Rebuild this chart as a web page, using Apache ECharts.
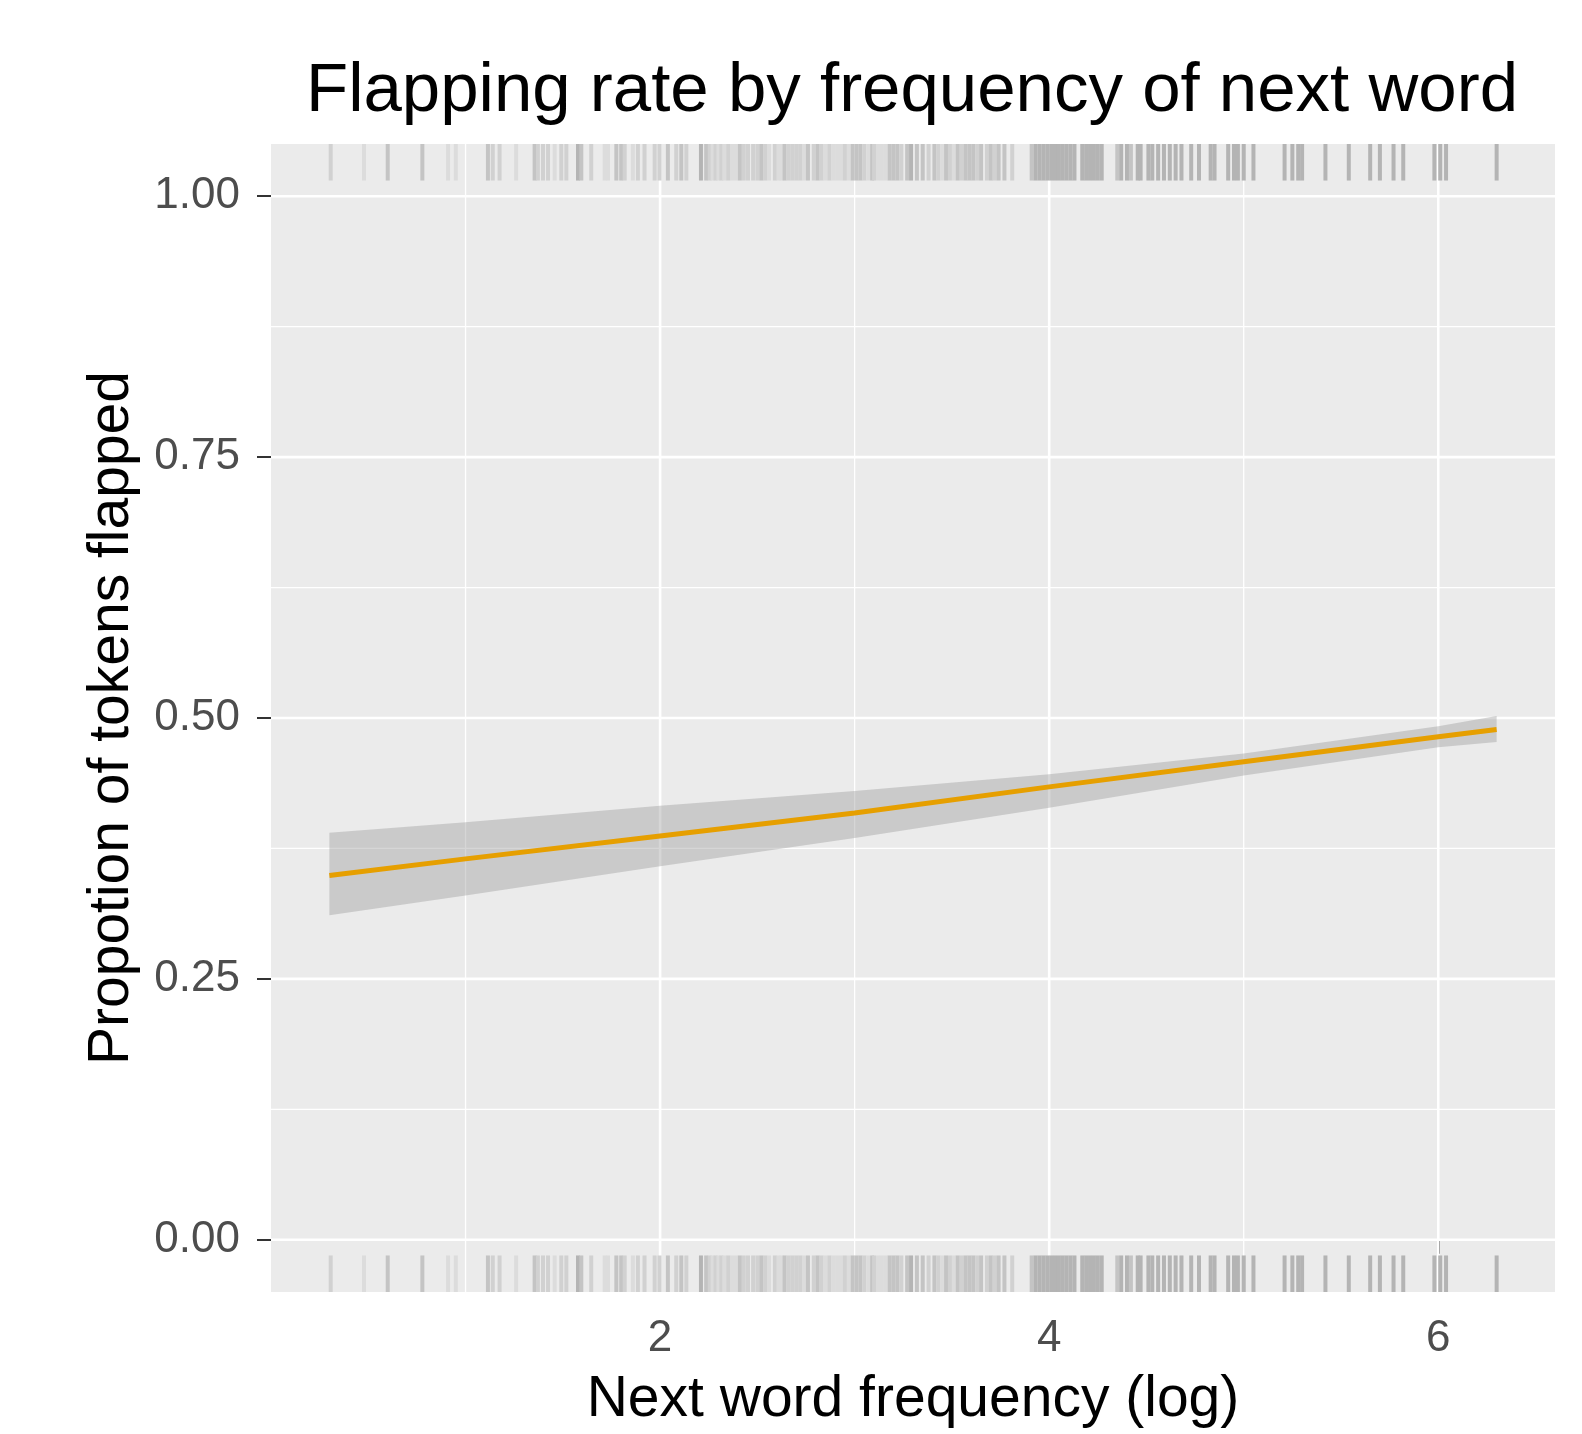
<!DOCTYPE html>
<html>
<head>
<meta charset="utf-8">
<script src="https://cdn.jsdelivr.net/npm/echarts@6/dist/echarts.min.js"></script>
<style>html,body{margin:0;padding:0;background:#fff;}#chart{width:1582px;height:1434px;}</style>
</head>
<body>
<div id="chart"></div>
<script>
// ---- data ----
const fitX    = [0.30, 1.0, 2.0, 3.0, 4.0, 5.0, 6.0, 6.30];
const fitY    = [0.349, 0.365, 0.387, 0.409, 0.434, 0.458, 0.482, 0.489];
const ciUpper = [0.390, 0.400, 0.416, 0.430, 0.446, 0.466, 0.492, 0.502];
const ciLower = [0.311, 0.330, 0.358, 0.385, 0.414, 0.445, 0.472, 0.477];

// rug marks: [log frequency, darkness level 1..4]
const rugMarks = [
  [0.307,2],[0.478,1],[0.60,3],[0.778,3],[0.91,1],[0.95,1],[1.115,3],[1.14,2],[1.175,2],[1.26,1],
  [1.355,3],[1.372,2],[1.398,2],[1.424,2],[1.458,1],[1.492,2],[1.518,2],[1.578,4],[1.595,3],[1.646,2],
  [1.715,1],[1.732,1],[1.775,3],[1.80,3],[1.818,2],[1.86,1],[1.886,2],[1.92,2],[1.972,2],[1.997,2],
  [2.04,3],[2.083,2],[2.109,3],[2.135,2],[2.21,4],[2.237,3],
  [2.255,2],[2.27,1],[2.285,2],[2.30,1],[2.315,2],[2.33,1],[2.35,2],[2.37,1],[2.39,1],[2.41,3],[2.43,2],
  [2.452,2],[2.478,2],[2.50,2],[2.52,3],[2.54,2],[2.56,1],[2.59,2],[2.61,1],[2.625,1],[2.64,3],[2.66,2],[2.68,2],
  [2.70,2],[2.72,2],[2.74,1],[2.76,3],[2.79,2],[2.81,3],[2.83,2],[2.85,1],[2.87,2],[2.89,1],[2.91,1],[2.93,1],[2.95,2],
  [2.97,1],[2.99,3],[3.01,3],[3.03,3],[3.05,2],[3.07,1],[3.09,3],[3.10,2],[3.12,1],[3.14,1],[3.16,1],[3.18,3],[3.20,3],[3.22,3],
  [3.24,2],[3.27,3],[3.29,4],[3.32,3],[3.35,3],[3.38,2],[3.41,3],[3.43,2],[3.45,1],[3.47,3],[3.49,2],[3.51,1],
  [3.53,3],[3.55,2],[3.57,3],[3.59,3],[3.61,3],[3.63,2],[3.65,3],[3.68,2],[3.70,3],[3.72,2],
  [3.74,3],[3.77,3],[3.81,2],[3.91,3],
  [3.93,4],[3.95,4],[3.97,4],[3.99,4],[4.01,4],[4.03,4],[4.05,4],[4.07,4],[4.09,4],[4.11,4],[4.13,4],
  [4.17,4],[4.19,4],[4.21,4],[4.23,4],[4.25,4],[4.27,4],[4.35,3],[4.37,4],[4.40,4],[4.42,3],[4.455,4],
  [4.47,4],[4.51,4],[4.53,4],[4.56,4],[4.59,4],[4.62,4],[4.65,4],[4.68,4],[4.73,4],[4.77,4],
  [4.83,4],[4.85,4],[4.92,4],[4.95,4],[4.97,4],[5.00,4],[5.05,4],[5.21,4],[5.25,4],[5.28,4],
  [5.30,4],[5.42,4],[5.54,4],[5.65,4],[5.70,4],[5.77,4],[5.82,4],[5.98,4],[6.01,4],[6.04,4],[6.30,4]
];

const xTicks = [2, 4, 6];
const xMinor = [1, 3, 5];
const yTicks = [0, 0.25, 0.5, 0.75, 1];
const yMinor = [0.125, 0.375, 0.625, 0.875];

const X_MIN = 0, X_MAX = 6.6, Y_MIN = -0.05, Y_MAX = 1.05;
const RUG_LEN = 0.035;
const levelColor = {1: '#dcdcdc', 2: '#d1d1d1', 3: '#c4c4c4', 4: '#b4b4b4'};
const FONT = 'Liberation Sans';

const chart = echarts.init(document.getElementById('chart'), null, {renderer: 'canvas'});

function vGrid(width) {
  return function (params, api) {
    const v = api.value(0);
    const p1 = api.coord([v, Y_MIN]);
    const p2 = api.coord([v, Y_MAX]);
    return {type: 'line', shape: {x1: p1[0], y1: p1[1], x2: p2[0], y2: p2[1]},
            style: {stroke: '#ffffff', lineWidth: width}};
  };
}
function hGrid(width) {
  return function (params, api) {
    const v = api.value(1);
    const p1 = api.coord([X_MIN, v]);
    const p2 = api.coord([X_MAX, v]);
    return {type: 'line', shape: {x1: p1[0], y1: p1[1], x2: p2[0], y2: p2[1]},
            style: {stroke: '#ffffff', lineWidth: width}};
  };
}

const option = {
  backgroundColor: '#ffffff',
  animation: false,
  title: {
    text: 'Flapping rate by frequency of next word',
    left: 306, top: 57, padding: 0,
    textStyle: {fontFamily: FONT, fontSize: 69, fontWeight: 'normal', color: '#000000'}
  },
  grid: {left: 271, right: 27, top: 144, bottom: 137, show: true,
         backgroundColor: '#ebebeb', borderWidth: 0, containLabel: false},
  xAxis: {
    type: 'value', min: X_MIN, max: X_MAX,
    name: 'Next word frequency (log)', nameLocation: 'middle', nameGap: 80,
    nameTextStyle: {fontFamily: FONT, fontSize: 57, color: '#000000'},
    axisLine: {show: false},
    axisTick: {show: true, customValues: xTicks, length: 14, lineStyle: {color: '#333333', width: 2}},
    axisLabel: {customValues: xTicks, margin: 25, fontFamily: FONT, fontSize: 44, color: '#4d4d4d'},
    splitLine: {show: false}
  },
  yAxis: {
    type: 'value', min: Y_MIN, max: Y_MAX,
    name: 'Propotion of tokens flapped', nameLocation: 'middle', nameGap: 130, nameRotate: 90,
    nameTextStyle: {fontFamily: FONT, fontSize: 57, color: '#000000'},
    axisLine: {show: false},
    axisTick: {show: true, customValues: yTicks, length: 14, lineStyle: {color: '#333333', width: 2}},
    axisLabel: {customValues: yTicks, margin: 31, fontFamily: FONT, fontSize: 44, color: '#4d4d4d',
                formatter: v => Number(v).toFixed(2)},
    splitLine: {show: false}
  },
  series: [
    {type: 'custom', name: 'gridMinorX', z: 1, silent: true,
     data: xMinor.map(v => [v, 0.5]), renderItem: vGrid(1.3)},
    {type: 'custom', name: 'gridMinorY', z: 1, silent: true,
     data: yMinor.map(v => [3, v]), renderItem: hGrid(1.3)},
    {type: 'custom', name: 'gridMajorX', z: 1, silent: true,
     data: xTicks.map(v => [v, 0.5]), renderItem: vGrid(2.6)},
    {type: 'custom', name: 'gridMajorY', z: 1, silent: true,
     data: yTicks.map(v => [3, v]), renderItem: hGrid(2.6)},
    {type: 'custom', name: 'rug', z: 2, silent: true,
     data: rugMarks,
     renderItem: function (params, api) {
       const x = api.value(0);
       const lvl = api.value(1);
       const t1 = api.coord([x, Y_MAX]);
       const t2 = api.coord([x, Y_MAX - RUG_LEN]);
       const b1 = api.coord([x, Y_MIN]);
       const b2 = api.coord([x, Y_MIN + RUG_LEN]);
       const st = {stroke: levelColor[lvl], lineWidth: 4};
       return {type: 'group', children: [
         {type: 'line', shape: {x1: t1[0], y1: t1[1], x2: t2[0], y2: t2[1]}, style: st},
         {type: 'line', shape: {x1: b1[0], y1: b1[1], x2: b2[0], y2: b2[1]}, style: st}
       ]};
     }},
    {type: 'custom', name: 'ci', z: 3, silent: true,
     data: [[fitX[0], fitY[0]]],
     renderItem: function (params, api) {
       const pts = [];
       for (let i = 0; i < fitX.length; i++) pts.push(api.coord([fitX[i], ciUpper[i]]));
       for (let i = fitX.length - 1; i >= 0; i--) pts.push(api.coord([fitX[i], ciLower[i]]));
       return {type: 'polygon', shape: {points: pts},
               style: {fill: 'rgba(153,153,153,0.4)'}};
     }},
    {type: 'line', name: 'fit', z: 4, silent: true, showSymbol: false, symbol: 'none',
     data: fitX.map((x, i) => [x, fitY[i]]),
     lineStyle: {color: '#E69F00', width: 5, cap: 'butt'}}
  ]
};
chart.setOption(option);
</script>
</body>
</html>
